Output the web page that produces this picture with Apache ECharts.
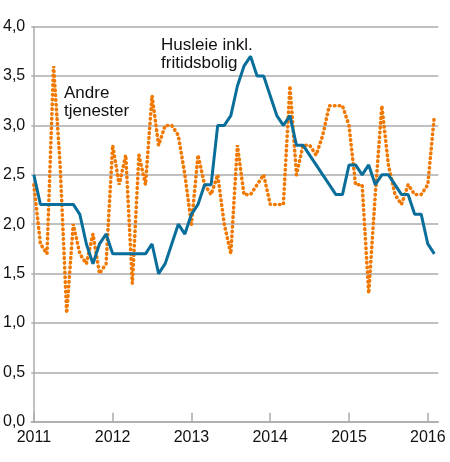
<!DOCTYPE html>
<html lang="no">
  <head>
    <meta charset="UTF-8" />
    <title>Husleie og andre tjenester</title>
    <script src="https://cdn.jsdelivr.net/npm/echarts@6/dist/echarts.min.js"></script>
    <style>
      html,
      body {
        margin: 0;
        padding: 0;
        background: #fff;
      }
      #chart {
        width: 450px;
        height: 462px;
      }
    </style>
  </head>
  <body>
    <div id="chart"></div>
    <script>
      // månedlige tall, jan 2011 - feb 2016
      const startYear = 2011;
      const yearTicks = [0, 12, 24, 36, 48, 60];
      const yTicks = [0, 0.5, 1, 1.5, 2, 2.5, 3, 3.5, 4];

      const husleie = [
        2.5, 2.2, 2.2, 2.2, 2.2, 2.2, 2.2, 2.1, 1.8, 1.6, 1.8, 1.9,
        1.7, 1.7, 1.7, 1.7, 1.7, 1.7, 1.8, 1.5, 1.6, 1.8, 2.0, 1.9,
        2.1, 2.2, 2.4, 2.4, 3.0, 3.0, 3.1, 3.4, 3.6, 3.7, 3.5, 3.5,
        3.3, 3.1, 3.0, 3.1, 2.8, 2.8, 2.7, 2.6, 2.5, 2.4, 2.3, 2.3,
        2.6, 2.6, 2.5, 2.6, 2.4, 2.5, 2.5, 2.4, 2.3, 2.3, 2.1, 2.1,
        1.8, 1.7,
      ];
      const andreTjenester = [
        2.4, 1.8, 1.7, 3.6, 2.6, 1.1, 2.0, 1.7, 1.6, 1.9, 1.5, 1.6,
        2.8, 2.4, 2.7, 1.4, 2.7, 2.4, 3.3, 2.8, 3.0, 3.0, 2.9, 2.5,
        2.0, 2.7, 2.4, 2.3, 2.5, 2.0, 1.7, 2.8, 2.3, 2.3, 2.4, 2.5,
        2.2, 2.2, 2.2, 3.4, 2.5, 2.8, 2.8, 2.7, 2.9, 3.2, 3.2, 3.2,
        3.0, 2.4, 2.4, 1.3, 2.3, 3.2, 2.6, 2.3, 2.2, 2.4, 2.3, 2.3,
        2.4, 3.1,
      ];

      const chart = echarts.init(document.getElementById("chart"));
      const font = "Liberation Sans, Arial, sans-serif";
      const gray = "#ababab";

      const option = {
        animation: false,
        grid: {
          left: 30.7,
          right: 11.7,
          top: 26.7,
          bottom: 40.3,
        },
        xAxis: {
          type: "value",
          min: -0.4,
          max: 61.6,
          axisLine: { show: true, lineStyle: { color: gray, width: 1.5 } },
          splitLine: { show: false },
          axisTick: {
            show: true,
            inside: true,
            length: 9,
            customValues: yearTicks,
            lineStyle: { color: gray, width: 1.5 },
          },
          axisLabel: {
            customValues: yearTicks,
            formatter: (v) => String(startYear + v / 12),
            color: "#111",
            fontSize: 16,
            fontFamily: font,
            margin: 8,
          },
        },
        yAxis: {
          type: "value",
          min: 0,
          max: 4,
          interval: 0.5,
          axisLine: { show: true, lineStyle: { color: gray, width: 1.5 } },
          axisTick: { show: false },
          splitLine: { lineStyle: { color: gray, width: 1.5 } },
          axisLabel: {
            formatter: (v) => v.toFixed(1).replace(".", ","),
            color: "#111",
            fontSize: 16,
            fontFamily: font,
            margin: 6,
          },
        },
        series: [
          {
            name: "Andre tjenester",
            type: "line",
            showSymbol: false,
            data: andreTjenester.map((v, i) => [i, v]),
            lineStyle: {
              color: "#f07800",
              width: 3.6,
              type: [0.5, 4.3],
              cap: "round",
            },
            z: 2,
          },
          {
            name: "Husleie inkl. fritidsbolig",
            type: "line",
            showSymbol: false,
            data: husleie.map((v, i) => [i, v]),
            lineStyle: { color: "#0a6e9b", width: 3 },
            z: 3,
          },
        ],
        graphic: [
          {
            type: "text",
            left: 64,
            top: 84,
            style: {
              text: "Andre\ntjenester",
              font: "17px " + font,
              lineHeight: 18.5,
              fill: "#111",
            },
          },
          {
            type: "text",
            left: 161,
            top: 36,
            style: {
              text: "Husleie inkl.\nfritidsbolig",
              font: "17px " + font,
              lineHeight: 18,
              fill: "#111",
            },
          },
        ],
      };

      chart.setOption(option);
    </script>
  </body>
</html>
